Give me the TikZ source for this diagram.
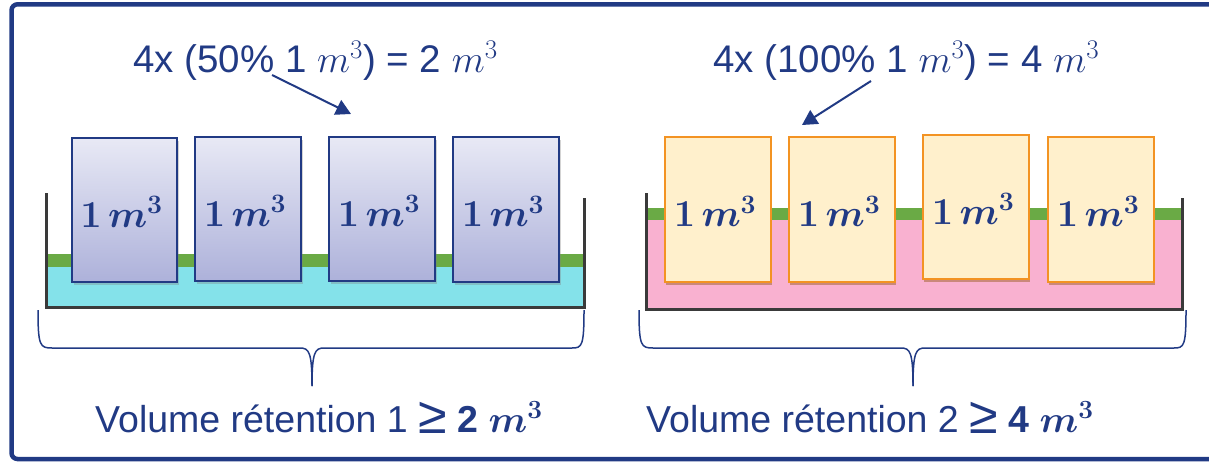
\RequirePackage{fix-cm}
\documentclass[tikz,border=0pt]{standalone}
\usepackage[no-math]{fontspec}
\setmainfont{Liberation Sans}
\usepackage{bm}
\usetikzlibrary{arrows.meta,shadows}
\definecolor{tblue}{HTML}{213A84}
\definecolor{wallgray}{HTML}{3A3A3A}
\definecolor{cyanw}{HTML}{84E2EA}
\definecolor{pinkw}{HTML}{F9B1D0}
\definecolor{greenw}{HTML}{6AAA45}
\definecolor{bluetop}{HTML}{E8E9F5}
\definecolor{bluebot}{HTML}{ADB1DA}
\definecolor{cream}{HTML}{FFF0CC}
\definecolor{orangeb}{HTML}{F39323}
\tikzset{
  blueblock/.style={draw=tblue, line width=2.2pt, top color=bluetop, bottom color=bluebot,
    inner sep=0pt, outer sep=0pt, text=tblue,
    drop shadow={opacity=0.35, shadow xshift=1.5pt, shadow yshift=-2.5pt}},
  orangeblock/.style={draw=orangeb, line width=2.2pt, fill=cream,
    inner sep=0pt, outer sep=0pt, text=tblue,
    drop shadow={opacity=0.45, fill=orangeb!60!black, shadow xshift=1pt, shadow yshift=-2.5pt}},
  wall/.style={draw=wallgray, line width=3pt},
  brace/.style={draw=tblue, line width=1.5pt},
  pointer/.style={draw=tblue, line width=2pt, -{Triangle[length=15pt,width=16pt]}},
  bigtext/.style={text=tblue, inner sep=0pt, anchor=base west, font=\fontsize{37.5}{44}\selectfont},
  toptext/.style={bigtext, font=\fontsize{38.5}{44}\selectfont},
  blocklabel/.style={font=\fontsize{38}{44}\selectfont}
}
\newcommand{\onem}{$\bm{1\,m^3}$}
\newcommand{\gemark}{{\fontsize{52}{52}\selectfont\raisebox{-1pt}{≥}}}
\begin{document}
\begin{tikzpicture}[x=1pt,y=-1pt]
\useasboundingbox (0,0) rectangle (1209,461);
\begin{scope}
\clip (0,0) rectangle (1209,461);
\draw[tblue, line width=4.5pt, rounded corners=6pt] (11.5,4.3) rectangle (1220,459);
\end{scope}

% left tank
\fill[cyanw] (47,267) rectangle (584,306);
\fill[greenw] (47,254) rectangle (584,267);
\draw[wall] (46,193) -- (46,307.5) -- (584,307.5);
\draw[wall] (584,198) -- (584,309);

% right tank
\fill[pinkw] (647,220) rectangle (1182,308);
\fill[greenw] (647,208) rectangle (1182,220);
\draw[wall] (646,193) -- (646,309) -- (1182,309);
\draw[wall] (1182,198) -- (1182,311);

% left blocks
\node[blueblock, minimum width=105pt, minimum height=144pt] (b1) at (124.5,210) {};
\node[blueblock, minimum width=106pt, minimum height=144pt] (b2) at (248,209) {};
\node[blueblock, minimum width=106pt, minimum height=144pt] (b3) at (382,209) {};
\node[blueblock, minimum width=106pt, minimum height=145pt] (b4) at (506,209.5) {};
\foreach \b in {b1,b2,b3,b4}{
  \node[blocklabel, text=tblue] at ([xshift=-3pt,yshift=-2pt]\b.center) {\onem};
}

% right blocks
\node[orangeblock, minimum width=106pt, minimum height=145pt] (c1) at (718,209.5) {};
\node[orangeblock, minimum width=106pt, minimum height=145pt] (c2) at (842,209.5) {};
\node[orangeblock, minimum width=106pt, minimum height=144pt] (c3) at (976,207) {};
\node[orangeblock, minimum width=106pt, minimum height=145pt] (c4) at (1101,209.5) {};
\foreach \c in {c1,c2,c3,c4}{
  \node[blocklabel, text=tblue] at ([xshift=-3pt,yshift=-2pt]\c.center) {\onem};
}

% top texts
\node[toptext] (t1) at (133,72) {4x (50\% 1 $m^3$) = 2 $m^3$};
\node[toptext] (t2) at (713,72) {4x (100\% 1 $m^3$) = 4 $m^3$};
\coordinate (a1s) at (272,75);
\coordinate (a1e) at (351,114);
\coordinate (a2s) at (871,81);
\coordinate (a2e) at (802,125);
\draw[pointer] (a1s) -- (a1e);
\draw[pointer] (a2s) -- (a2e);

% braces
\draw[brace] (38,310) .. controls (38,346) and (40,348) .. (52,348) -- (300,348)
  .. controls (309,348) and (312,352) .. (312,386);
\draw[brace] (584,310) .. controls (584,346) and (582,348) .. (572,348) -- (324,348)
  .. controls (315,348) and (312,352) .. (312,386);
\draw[brace] (639,310) .. controls (639,346) and (641,348) .. (653,348) -- (901,348)
  .. controls (910,348) and (913,352) .. (913,386);
\draw[brace] (1186,310) .. controls (1186,346) and (1184,348) .. (1174,348) -- (925,348)
  .. controls (916,348) and (913,352) .. (913,386);

% bottom texts
\node[bigtext] (v1) at (95,432) {Volume rétention 1 \gemark\ \textbf{2} $\bm{m^3}$};
\node[bigtext] (v2) at (646,432) {Volume rétention 2 \gemark\ \textbf{4} $\bm{m^3}$};
\end{tikzpicture}
\end{document}
